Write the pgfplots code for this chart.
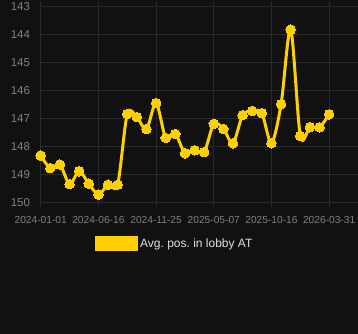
\documentclass[border=0pt]{standalone}
\usepackage{fontspec}
\setmainfont{Liberation Sans}
\usepackage{pgfplots}
\pgfplotsset{compat=1.18}
\frenchspacing
\definecolor{bgc}{HTML}{111111}
\definecolor{gridc}{HTML}{2A2A2A}
\definecolor{tickc}{HTML}{808080}
\definecolor{legc}{HTML}{E0E0E0}
\definecolor{gold}{HTML}{FFD000}
\begin{document}
\begin{tikzpicture}
\fill[bgc] (0,0) rectangle (358bp,334bp);
\useasboundingbox (0,0) rectangle (358bp,334bp);
\begin{axis}[
  at={(40.7bp,131.3bp)}, anchor=south west,
  scale only axis, width=317.3bp, height=196.4bp,
  xmin=0, xmax=33, ymin=143, ymax=150, y dir=reverse,
  xtick={0,6,12,18,24,30},
  xticklabels={2024-01-01,2024-06-16,2024-11-25,2025-05-07,2025-10-16,2026-03-31},
  ytick={143,144,145,146,147,148,149,150},
  grid=major, major grid style={gridc, line width=0.8bp},
  axis line style={draw=none},
  tick align=outside, major tick length=4bp,
  x tick style={gridc, line width=0.8bp},
  y tick style={draw=none},
  /pgf/number format/assume math mode=true,
  yticklabel style={font=\fontsize{11.5bp}{13bp}\selectfont, text=tickc, inner sep=0pt, anchor=east, xshift=-6.5bp},
  xticklabel style={font=\fontsize{10.2bp}{12bp}\selectfont, text=tickc, inner sep=0pt, anchor=north, yshift=-9bp},
  legend style={at={(axis description cs:0.171,-0.21)}, anchor=west, draw=none, fill=none, inner sep=0pt,
    font=\fontsize{12bp}{14bp}\selectfont, text=legc, legend cell align=left},
  legend image code/.code={\fill[gold] (0bp,-6bp) rectangle (40bp,6bp);},
]
\addplot[gold, line width=3bp, smooth, tension=0.5, mark=*, mark size=4.8bp, mark options={fill=gold, draw=gold, line width=0bp}]
coordinates {
(0,148.32) (1,148.77) (2,148.64) (3,149.34) (4,148.88) (5,149.32) (6,149.71) (7,149.36)
(8,149.36) (9,146.84) (10,146.95) (11,147.38) (12,146.45) (13,147.69) (14,147.55)
(15,148.24) (16,148.13) (17,148.20) (18,147.19) (19,147.37) (20,147.88) (21,146.88)
(22,146.73) (23,146.81) (24,147.88) (25,146.49) (26,143.83) (27,147.62) (28,147.31)
(29,147.31) (30,146.85)
};
\addlegendentry{Avg.\ pos.\ in lobby AT}
\end{axis}
\end{tikzpicture}
\end{document}
